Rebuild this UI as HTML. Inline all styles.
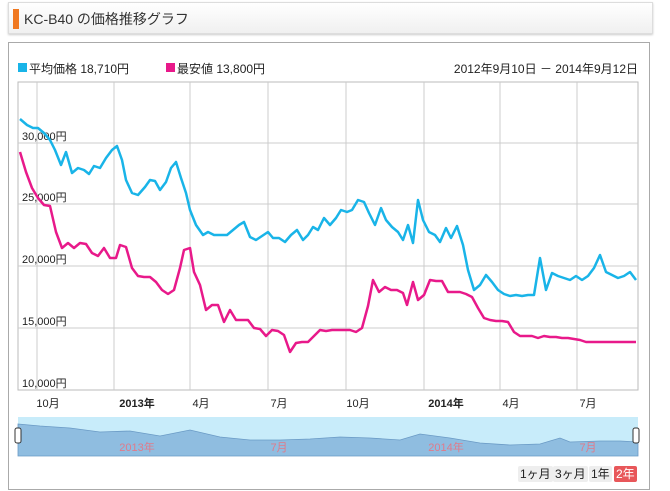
<!DOCTYPE html>
<html><head><meta charset="utf-8"><style>
body{margin:0;width:670px;height:491px;background:#fff;font-family:"Liberation Sans","Noto Sans CJK JP",sans-serif;overflow:hidden;position:relative}
.hdr{position:absolute;left:8px;top:2px;width:643px;height:30px;border:1px solid #ddd;background:linear-gradient(#fff,#f0f0f0);box-shadow:0 1px 2px #ccc}
.bar{position:absolute;left:4px;top:6px;width:6px;height:20px;background:#f07820}
.ttl{position:absolute;left:15px;top:6px;font-size:14px;color:#333}
.frame{position:absolute;left:8px;top:42px;width:640px;height:446px;border:1px solid #aaa}
svg{position:absolute;left:0;top:0}
.btn{position:absolute;top:466px;height:16px;font-size:12px;line-height:16px;padding:0 2px;background:#eee;border-radius:2px;color:#222}
</style></head><body>
<div class="hdr"><div class="bar"></div><div class="ttl">KC-B40 の価格推移グラフ</div></div>
<div class="frame"></div>
<svg width="670" height="491" font-family="Liberation Sans, Noto Sans CJK JP, sans-serif">
<rect x="18" y="63" width="9" height="9" fill="#19b4e8"/>
<text x="29" y="73" font-size="12" fill="#222">平均価格 18,710円</text>
<rect x="166" y="63" width="9" height="9" fill="#e8198a"/>
<text x="177" y="73" font-size="12" fill="#222">最安値 13,800円</text>
<text x="638" y="73" font-size="12" fill="#222" text-anchor="end">2012年9月10日 － 2014年9月12日</text>
<rect x="18" y="82" width="620" height="308" fill="none" stroke="#bbb"/>
<g stroke="#ccc" stroke-width="1">
<line x1="37" y1="82" x2="37" y2="390"/><line x1="114" y1="82" x2="114" y2="390"/><line x1="190" y1="82" x2="190" y2="390"/><line x1="268" y1="82" x2="268" y2="390"/><line x1="346" y1="82" x2="346" y2="390"/><line x1="424" y1="82" x2="424" y2="390"/><line x1="500" y1="82" x2="500" y2="390"/><line x1="577" y1="82" x2="577" y2="390"/>
<line x1="18" y1="143" x2="638" y2="143"/><line x1="18" y1="204" x2="638" y2="204"/><line x1="18" y1="266" x2="638" y2="266"/><line x1="18" y1="328" x2="638" y2="328"/>
</g>
<g font-size="11" fill="#222">
<text x="22" y="140">30,000円</text><text x="22" y="201">25,000円</text><text x="22" y="263">20,000円</text><text x="22" y="325">15,000円</text><text x="22" y="387">10,000円</text>
</g>
<polyline fill="none" stroke="#19b4e8" stroke-width="2.5" stroke-linejoin="round" points="20,119 27,125 33,128 38,128 44,133 50,140 55,150 61,165 66,152 72,173 78,168 84,170 89,174 94,166 100,168 106,158 112,150 117,146 122,160 126,180 132,193 138,195 145,187 150,180 155,181 160,190 166,182 171,168 176,162 181,178 186,193 190,210 196,225 203,235 208,232 214,235 221,235 227,235 233,230 239,225 244,222 250,237 256,240 262,236 268,232 273,238 279,238 285,242 291,235 297,230 303,240 308,235 313,227 318,230 324,218 330,225 336,218 341,210 347,212 352,210 358,200 364,202 369,213 375,225 381,208 386,220 392,227 398,232 403,240 408,225 413,243 418,200 423,220 429,232 435,235 440,242 446,228 451,238 457,226 463,245 468,270 474,290 480,285 486,275 492,282 498,290 504,294 510,296 516,295 522,296 528,295 534,295 540,258 546,290 552,273 558,276 564,278 570,280 576,276 582,280 588,276 594,268 600,255 606,272 612,275 618,278 624,276 630,272 636,280"/>
<polyline fill="none" stroke="#e8198a" stroke-width="2.5" stroke-linejoin="round" points="20,152 26,172 32,188 38,198 44,205 50,206 56,232 62,248 68,243 74,248 80,243 86,244 92,253 98,256 104,248 110,258 116,258 120,245 126,247 132,268 138,276 144,277 150,277 156,282 162,290 168,294 174,290 180,268 184,250 190,248 194,272 200,285 206,310 212,305 218,305 224,322 230,310 236,320 242,320 248,320 254,328 260,329 266,336 272,330 278,331 284,335 290,352 296,343 302,342 308,342 314,336 320,330 326,331 332,330 338,330 344,330 350,330 356,332 362,328 368,306 373,280 379,292 385,287 391,290 397,290 403,293 407,305 413,282 418,300 424,295 430,280 436,281 442,281 448,292 454,292 460,292 466,294 472,297 478,308 484,318 490,320 496,321 502,321 508,322 514,332 520,336 526,336 532,336 538,338 544,336 550,337 556,337 562,338 568,338 574,339 580,340 586,342 600,342 636,342"/>
<g font-size="11" fill="#222" text-anchor="middle">
<text x="48" y="407">10月</text><text x="137" y="407" font-weight="bold">2013年</text><text x="201" y="407">4月</text><text x="279" y="407">7月</text><text x="358" y="407">10月</text><text x="446" y="407" font-weight="bold">2014年</text><text x="511" y="407">4月</text><text x="588" y="407">7月</text>
</g>
<rect x="18" y="417" width="620" height="39" fill="#c8ecfa"/>
<path d="M18,424 L40,426 L70,428 L100,432 L130,431 L160,436 L190,430 L220,437 L250,440 L280,440 L310,439 L340,437 L370,438 L400,440 L420,434 L450,438 L480,443 L510,445 L540,444 L560,438 L570,442 L600,441 L620,441 L638,442 L638,456 L18,456 Z" fill="#8fbde0" stroke="#6a9ac5" stroke-width="0.8"/>
<g font-size="11" fill="#e07a8a" text-anchor="middle">
<text x="137" y="451">2013年</text><text x="279" y="451">7月</text><text x="446" y="451">2014年</text><text x="588" y="451">7月</text>
</g>
<rect x="15" y="428" width="6" height="15" rx="2" fill="#fff" stroke="#333"/>
<rect x="633" y="428" width="6" height="15" rx="2" fill="#fff" stroke="#333"/>
</svg>
<div class="btn" style="left:518px">1ヶ月</div>
<div class="btn" style="left:553px">3ヶ月</div>
<div class="btn" style="left:589px">1年</div>
<div class="btn" style="left:614px;background:#e8575a;color:#fff">2年</div>
</body></html>
